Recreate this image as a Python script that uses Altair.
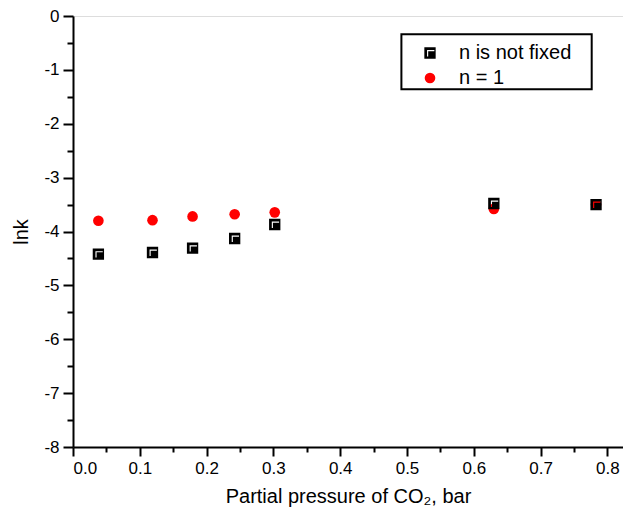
import altair as alt
import pandas as pd

x_vals = [0.038, 0.119, 0.179, 0.242, 0.302, 0.630, 0.783]
y_not_fixed = [-4.42, -4.39, -4.31, -4.13, -3.87, -3.48, -3.50]
y_n1 = [-3.80, -3.79, -3.72, -3.68, -3.645, -3.58, -3.50]
series_names = ["n is not fixed", "n = 1"]

y_major = [-8, -7, -6, -5, -4, -3, -2, -1, 0]
y_minor = [-7.5, -6.5, -5.5, -4.5, -3.5, -2.5, -1.5, -0.5]
x_major = [0.0, 0.1, 0.2, 0.3, 0.4, 0.5, 0.6, 0.7, 0.8]
x_minor = [0.05, 0.15, 0.25, 0.35, 0.45, 0.55, 0.65, 0.75]

rows = []
for xv, yv in zip(x_vals, y_not_fixed):
    rows.append({"x": xv, "y": yv, "series": series_names[0]})
for xv, yv in zip(x_vals, y_n1):
    rows.append({"x": xv, "y": yv, "series": series_names[1]})
df = pd.DataFrame(rows)

FONT = "Liberation Sans"
# black square with a white "Γ" cut out (opposite winding -> hole)
square_path = ("M -1 -1 L 1 -1 L 1 1 L -1 1 Z "
               "M -0.52 -0.52 L -0.52 0.6 L -0.32 0.6 L -0.32 -0.32 L 0.77 -0.32 L 0.77 -0.52 Z")

W = 550
H = 431
xdom = [0, W / 668]
ydom = [-8, 0]

base = alt.Chart(df)

points = base.mark_point(filled=True, opacity=1).encode(
    x=alt.X("x:Q", scale=alt.Scale(domain=xdom, nice=False, zero=False),
            axis=alt.Axis(values=x_major, format=".1f", tickSize=9, tickWidth=2,
                          domainWidth=2, domainColor="black", tickColor="black",
                          labelFontSize=17, labelFont=FONT, labelColor="black",
                          labelPadding=4, title="Partial pressure of CO₂, bar",
                          titleFontSize=20, titleFont=FONT, titleFontWeight="normal",
                          titleColor="black", titlePadding=10, grid=False, orient="bottom")),
    y=alt.Y("y:Q", scale=alt.Scale(domain=ydom, nice=False, zero=False),
            axis=alt.Axis(values=y_major, labelExpr="'' + datum.value", tickSize=10, tickWidth=2,
                          domainWidth=2, domainColor="black", tickColor="black",
                          labelFontSize=17, labelFont=FONT, labelColor="black",
                          labelPadding=4, title="lnk", titleFontSize=20, titleFont=FONT,
                          titleFontWeight="normal", titleColor="black", titlePadding=12,
                          grid=False, orient="left")),
    color=alt.Color("series:N", scale=alt.Scale(domain=series_names, range=["black", "red"]),
                    legend=alt.Legend(title=None, orient="none", legendX=347, legendY=27,
                                      padding=0, symbolSize=70, labelFontSize=20, labelFont=FONT,
                                      labelColor="black", labelOffset=19, rowPadding=5,
                                      symbolStrokeWidth=0)),
    shape=alt.Shape("series:N", scale=alt.Scale(domain=series_names, range=[square_path, "circle"])),
    size=alt.Size("series:N", scale=alt.Scale(domain=series_names, range=[128, 113]), legend=None),
    order=alt.Order("series:N"),
)

minor = base.mark_point(opacity=0).encode(
    x=alt.X("x:Q", scale=alt.Scale(domain=xdom, nice=False, zero=False),
            axis=alt.Axis(values=x_minor, labels=False, title=None, tickSize=5, tickWidth=2,
                          domain=False, tickColor="black", grid=False, orient="bottom")),
    y=alt.Y("y:Q", scale=alt.Scale(domain=ydom, nice=False, zero=False),
            axis=alt.Axis(values=y_minor, labels=False, title=None, tickSize=6, tickWidth=2,
                          domain=False, tickColor="black", grid=False, orient="left")),
)

frame = alt.Chart(alt.Data(values=[{}])).mark_rect(filled=False, stroke="black", strokeWidth=2).encode(
    x=alt.value(328.4), x2=alt.value(518.7), y=alt.value(18.3), y2=alt.value(73.3)
)

chart = alt.layer(minor, points, frame).resolve_axis(x="independent", y="independent").properties(
    width=W, height=H,
    autosize=alt.AutoSizeParams(type="none"),
    padding={"left": 65, "top": 8, "right": 0, "bottom": 65},
).configure_view(stroke=None).configure(background="white")

chart.save("out.html", embed_options={"renderer": "svg", "actions": False})
